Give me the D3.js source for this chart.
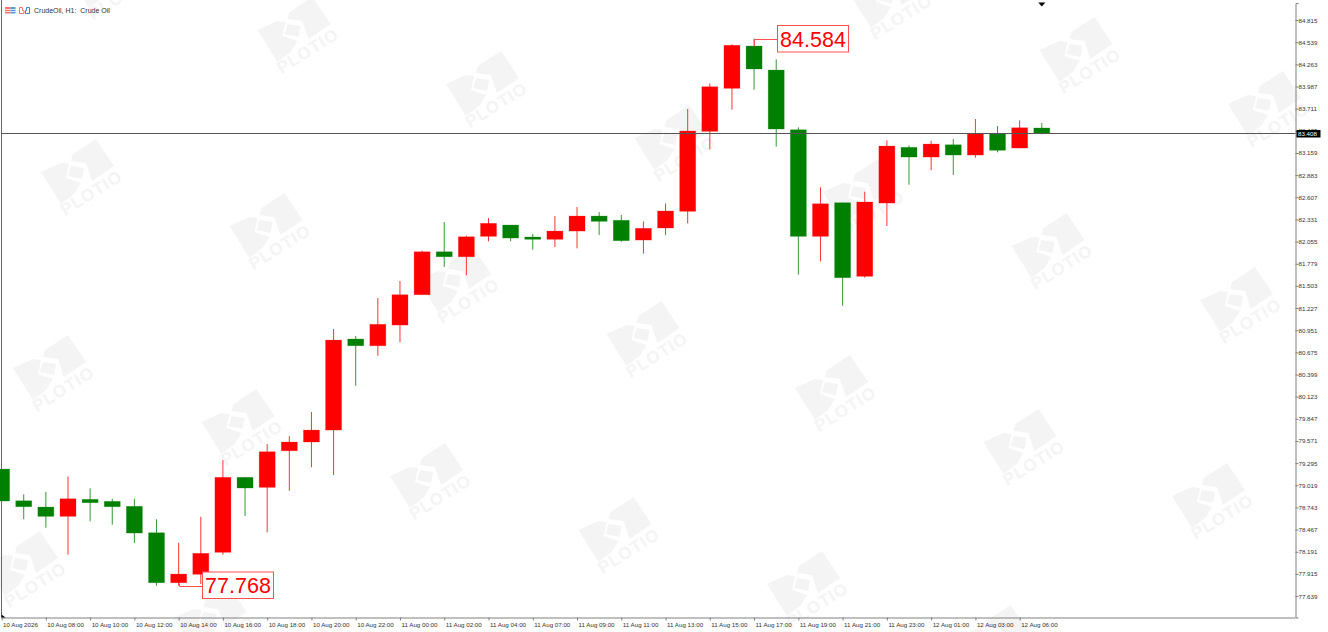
<!DOCTYPE html>
<html>
<head>
<meta charset="utf-8">
<title>CrudeOil, H1</title>
<script src="https://cdn.jsdelivr.net/npm/d3@7"></script>
<style>
    body { margin: 0; background: #fff; }
    svg { display: block; }
    text { font-family: "Liberation Sans", Arial, sans-serif; }
</style>
</head>
<body>
<svg width="1328" height="632"></svg>
<script>
// H1 candles
var opens = [79.221, 78.826, 78.748, 78.632, 78.844, 78.819, 78.757, 78.428, 77.805, 77.910, 78.184, 79.118,
    78.993, 79.449, 79.558, 79.707, 80.841, 80.757, 81.015, 81.393, 81.928, 81.866, 82.120, 82.261,
    82.112, 82.083, 82.186, 82.373, 82.320, 82.074, 82.224, 82.432, 83.428, 83.964, 84.491, 84.192,
    83.448, 82.120, 82.539, 81.622, 82.535, 83.229, 83.108, 83.261, 83.133, 83.404, 83.220, 83.470];
var highs = [79.221, 78.906, 78.938, 79.130, 78.981, 78.851, 78.851, 78.595, 78.303, 78.627, 79.333, 79.118,
    79.533, 79.632, 79.931, 80.965, 80.878, 81.352, 81.563, 81.941, 82.298, 82.128, 82.348, 82.261,
    82.149, 82.373, 82.485, 82.423, 82.386, 82.307, 82.531, 83.706, 84.026, 84.512, 84.584, 84.325,
    83.478, 82.731, 82.539, 82.676, 83.316, 83.254, 83.311, 83.332, 83.582, 83.494, 83.565, 83.532];
var lows = [78.823, 78.595, 78.490, 78.154, 78.570, 78.528, 78.303, 77.768, 77.768, 77.789, 78.154, 78.636,
    78.433, 78.951, 79.243, 79.147, 80.259, 80.633, 80.800, 81.393, 81.738, 81.634, 82.058, 82.058,
    81.953, 81.987, 81.971, 82.137, 82.053, 81.904, 82.137, 82.282, 83.204, 83.698, 83.947, 83.237,
    81.642, 81.809, 81.256, 81.605, 82.249, 82.763, 82.943, 82.884, 83.100, 83.167, 83.220, 83.391];
var closes = [78.823, 78.752, 78.632, 78.851, 78.802, 78.752, 78.424, 77.805, 77.913, 78.171, 79.118, 78.985,
    79.437, 79.558, 79.707, 80.828, 80.757, 81.024, 81.393, 81.928, 81.866, 82.115, 82.282, 82.099,
    82.083, 82.186, 82.373, 82.307, 82.066, 82.220, 82.436, 83.432, 83.984, 84.500, 84.205, 83.457,
    82.120, 82.526, 81.605, 82.548, 83.245, 83.108, 83.270, 83.133, 83.404, 83.192, 83.473, 83.408];

var priceTicks = [84.815, 84.539, 84.263, 83.987, 83.711, 83.435, 83.159, 82.883, 82.607, 82.331, 82.055,
    81.779, 81.503, 81.227, 80.951, 80.675, 80.399, 80.123, 79.847, 79.571, 79.295, 79.019, 78.743,
    78.467, 78.191, 77.915, 77.639];
var timeLabels = ["10 Aug 2026", "10 Aug 08:00", "10 Aug 10:00", "10 Aug 12:00", "10 Aug 14:00", "10 Aug 16:00",
    "10 Aug 18:00", "10 Aug 20:00", "10 Aug 22:00", "11 Aug 00:00", "11 Aug 02:00", "11 Aug 04:00",
    "11 Aug 07:00", "11 Aug 09:00", "11 Aug 11:00", "11 Aug 13:00", "11 Aug 15:00", "11 Aug 17:00",
    "11 Aug 19:00", "11 Aug 21:00", "11 Aug 23:00", "12 Aug 01:00", "12 Aug 03:00", "12 Aug 06:00"];
var currentPrice = 83.408;
var maxPrice = 84.584, maxBar = 34;
var minPrice = 77.768, minBar = 8;

var svg = d3.select("svg");
var axisX = 1295.5, axisY = 617.5;
var bodyWidth = 16;
var up = "#ff0000", down = "#008000";

var x = d3.scaleLinear().domain([0, 47]).range([1.6, 1041.8]);
var y = d3.scaleLinear().domain([85.027, 77.372]).range([3, axisY]);

// watermark, repeated over the chart
var wm = svg.append("g").attr("fill", "#f4f4f4");
d3.range(-1, 8).forEach(function (i) {
    d3.range(-2, 4).forEach(function (j) {
        var mark = wm.append("g")
            .attr("transform", "translate(" + (85 + 188.5 * i - 28 * j) + "," + (180 + 54 * i + 196 * j) + ")");
        mark.append("path").attr("d", "M-12,-26L11,-41L29,-14L7,1L1,-17L-14,-19Z");
        mark.append("path").attr("d", "M-44,-8L-24,-17L-16,-16L-19,-2L-4,3L-11,14L-24,24Z");
        mark.append("path").attr("d", "M-14,-14L-1,-12L-3,-1L-17,-4Z");
        mark.append("text")
            .attr("transform", "translate(7,14) rotate(-32)")
            .attr("text-anchor", "middle")
            .attr("dominant-baseline", "middle")
            .attr("font-size", "17px")
            .attr("font-weight", "bold")
            .attr("letter-spacing", "1px")
            .text("PLOTIO");
    });
});

// frame and axes
svg.append("line").attr("x1", 1.5).attr("x2", 1.5).attr("y1", 0).attr("y2", axisY)
    .attr("stroke", "#666");

var yAxis = svg.append("g")
    .attr("transform", "translate(" + axisX + ",0)")
    .call(d3.axisRight(y).tickValues(priceTicks).tickSize(3).tickPadding(0)
        .tickFormat(function (d) { return d.toFixed(3); }));
var xAxis = svg.append("g")
    .attr("transform", "translate(0," + axisY + ")")
    .call(d3.axisBottom(x).tickValues(d3.range(0, 48, 2)).tickSize(3).tickPadding(0)
        .tickFormat(function (d) { return timeLabels[d / 2]; }));
xAxis.select(".domain").attr("d", "M1.5,0.5H" + axisX);

[yAxis, xAxis].forEach(function (a) {
    a.selectAll("path,line").attr("stroke", "#808080");
    a.selectAll("text").attr("fill", "#333").attr("font-size", "6.2px")
        .attr("font-family", "Liberation Sans");
});
xAxis.selectAll("text").attr("text-anchor", "start").attr("dx", "1").attr("y", 5);

// candles
var bars = d3.range(opens.length);
svg.append("g").selectAll("line")
    .data(bars).enter().append("line")
    .attr("x1", function (i) { return x(i); })
    .attr("x2", function (i) { return x(i); })
    .attr("y1", function (i) { return y(highs[i]); })
    .attr("y2", function (i) { return y(lows[i]); })
    .attr("stroke-opacity", 0.8)
    .attr("stroke", function (i) { return closes[i] > opens[i] ? up : down; });
svg.append("g").selectAll("rect")
    .data(bars).enter().append("rect")
    .attr("x", function (i) { return x(i) - bodyWidth / 2; })
    .attr("width", bodyWidth)
    .attr("y", function (i) { return y(Math.max(opens[i], closes[i])); })
    .attr("height", function (i) { return Math.abs(y(opens[i]) - y(closes[i])); })
    .attr("fill", function (i) { return closes[i] > opens[i] ? up : down; })
    .attr("stroke", function (i) { return closes[i] > opens[i] ? up : down; })
    .attr("stroke-width", 0.8)
    .attr("stroke-opacity", 0.3);

// current price line and its label
var py = Math.round(y(currentPrice)) + 0.5;
svg.append("line").attr("x1", 1.5).attr("x2", axisX).attr("y1", py).attr("y2", py).attr("stroke", "#555");
svg.append("rect").attr("x", 1296.5).attr("y", py - 3.5).attr("width", 24).attr("height", 7.5).attr("fill", "#000");
svg.append("text").attr("x", 1298).attr("y", py + 2.2).attr("fill", "#fff").attr("font-size", "6.2px")
    .text(currentPrice.toFixed(3));

// high and low callouts
function callout(px, py, boxX, boxY, value, path) {
    svg.append("path").attr("d", path).attr("fill", "none").attr("stroke", "#ff5050");
    svg.append("rect").attr("x", boxX).attr("y", boxY).attr("width", 71).attr("height", 26.5)
        .attr("fill", "#fff").attr("stroke", "#ff5050");
    svg.append("text").attr("x", boxX + 35.5).attr("y", boxY + 21)
        .attr("text-anchor", "middle").attr("font-size", "21.5px").attr("fill", "#ff0000")
        .text(value.toFixed(3));
}
var hx = Math.round(x(maxBar)) + 0.5, hy = Math.round(y(maxPrice)) + 0.5;
callout(hx, hy, 777.5, 25.5, maxPrice, "M" + hx + "," + (hy + 7) + "V" + hy + "H777.5");
var lx = Math.round(x(minBar)) + 0.5, ly = Math.round(y(minPrice)) + 0.5;
callout(lx, ly, 202.5, 572, minPrice, "M" + lx + "," + (ly - 3) + "V" + ly + "H202.5");

// chart header
var icons = svg.append("g");
icons.append("rect").attr("x", 5).attr("y", 7).attr("width", 5.5).attr("height", 6.5).attr("fill", "#f4756b");
icons.append("rect").attr("x", 10.5).attr("y", 7).attr("width", 5).attr("height", 6.5).attr("fill", "#5b9bd5");
icons.append("path").attr("d", "M5,9.5H15.5M5,11.5H15.5").attr("stroke", "#fff").attr("stroke-width", 0.7);
icons.append("path").attr("d", "M19.5,13.5V7.5H22.5V10.5H24V13.5Z").attr("fill", "none").attr("stroke", "#f4756b");
icons.append("path").attr("d", "M25.5,13.5V10.5H26.5V7.5H29.5V13.5Z").attr("fill", "none").attr("stroke", "#3d85c6");
svg.append("text").attr("x", 34).attr("y", 12.5).attr("font-size", "7px").attr("fill", "#333")
    .attr("xml:space", "preserve").text("CrudeOil, H1:  Crude Oil");

// shift marker on top, corner marker bottom left
svg.append("path").attr("fill", "#000")
    .attr("d", d3.line()([[x(47) - 3.5, 2.5], [x(47) + 3.5, 2.5], [x(47), 6.5]]) + "Z");
svg.append("path").attr("fill", "#000")
    .attr("d", "M1.5,614.5L5.5,617.5H1.5Z");
</script>
</body>
</html>
